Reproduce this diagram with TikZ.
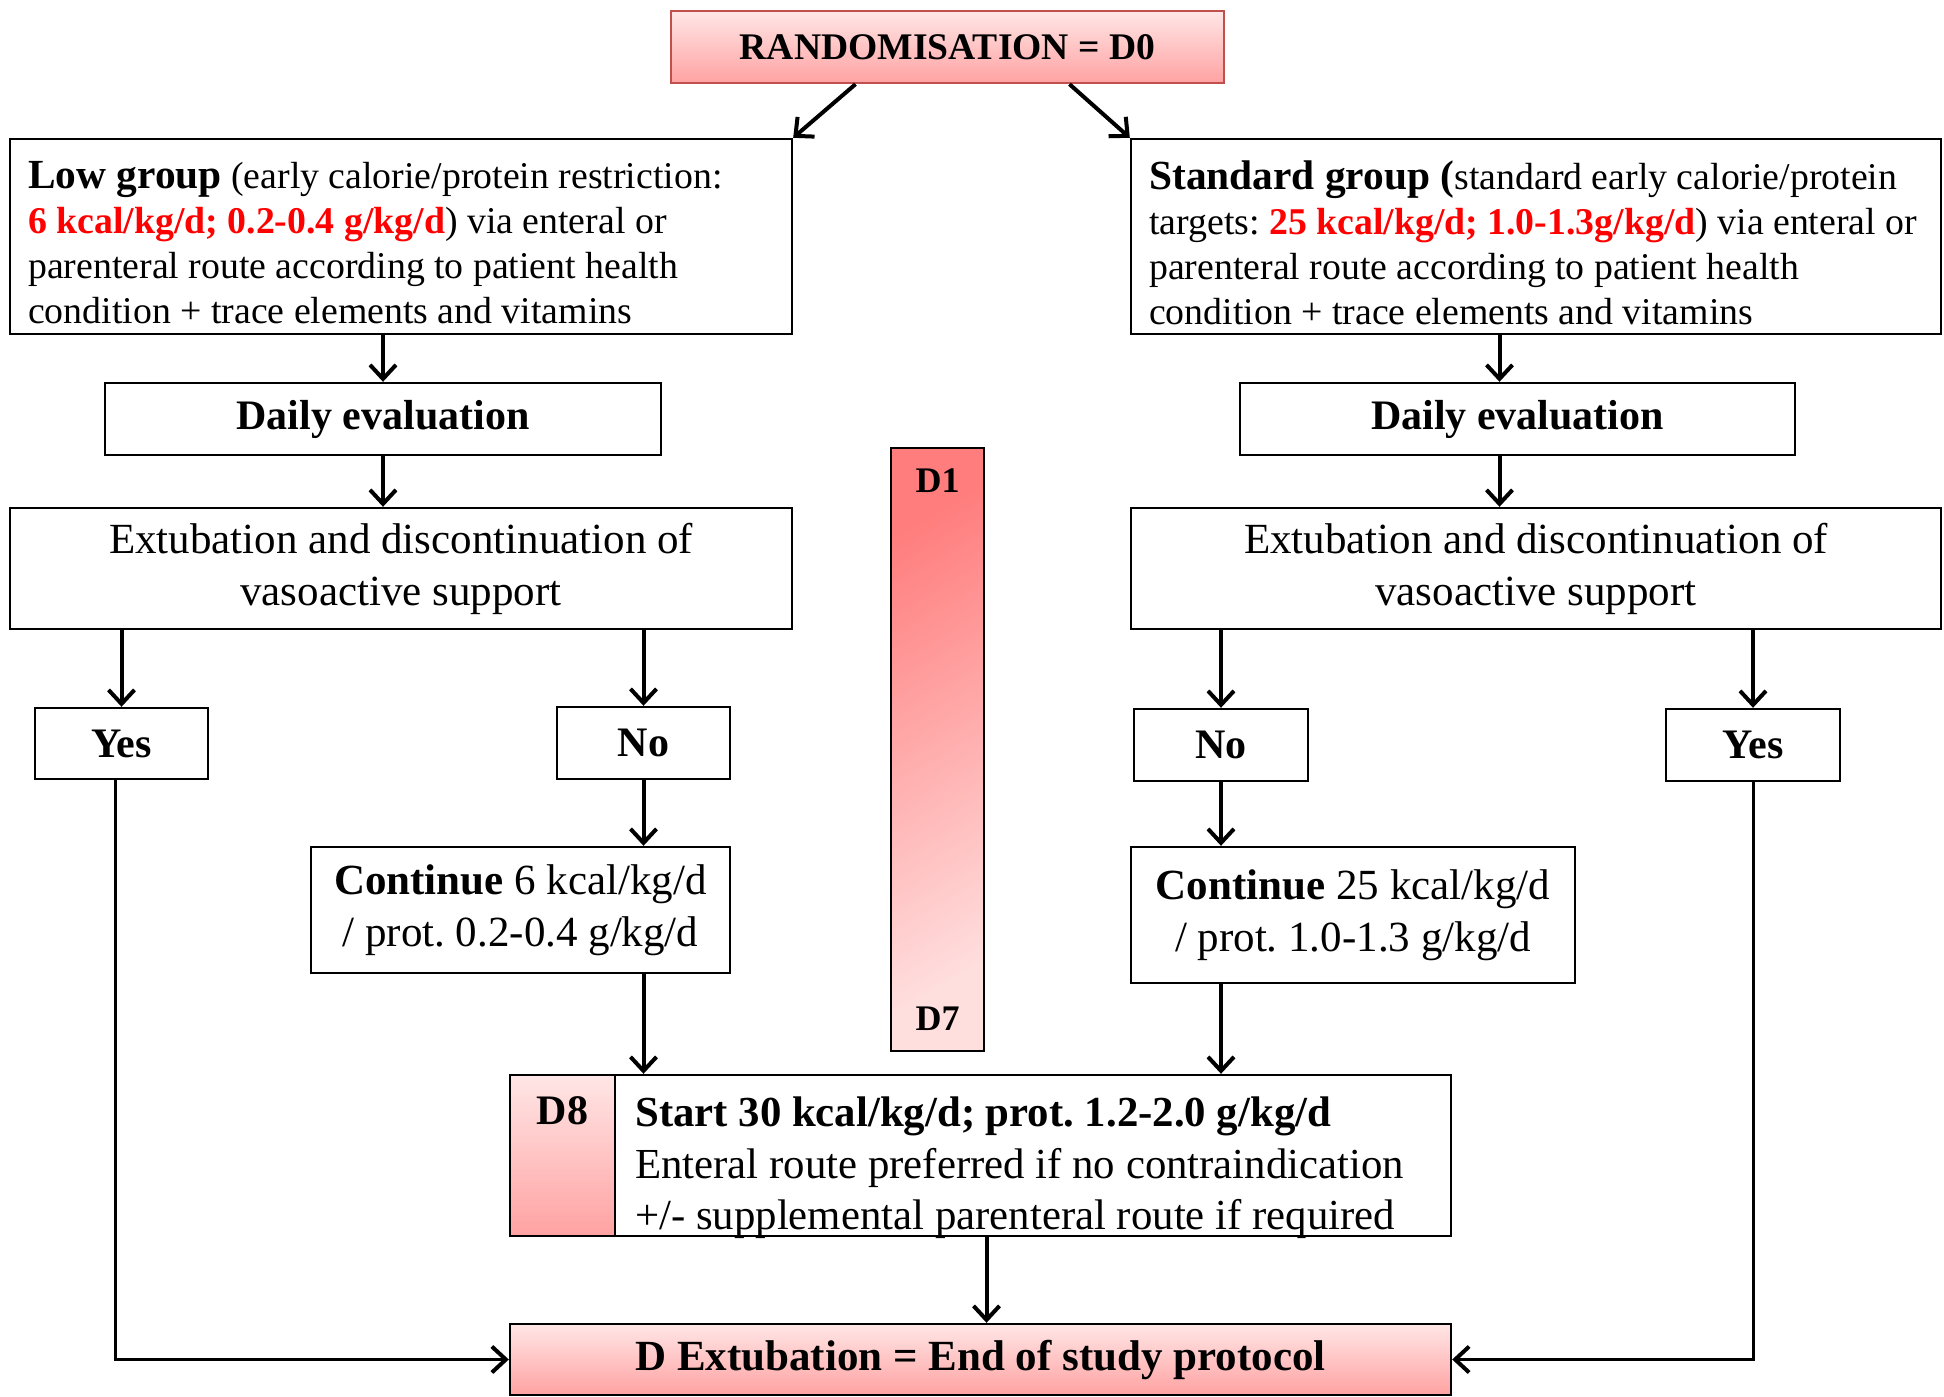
\documentclass[tikz,border=0pt]{standalone}
\usepackage{fontspec}
\setmainfont{Liberation Serif}
\usetikzlibrary{arrows.meta,positioning}

\definecolor{rndred}{RGB}{192,80,77}
\definecolor{pinkhi}{RGB}{255,230,230}
\definecolor{pinklo}{RGB}{255,162,162}
\definecolor{barhi}{RGB}{255,125,125}
\definecolor{barlo}{RGB}{255,222,222}
\newcommand{\hl}[1]{\textcolor{red}{\textbf{#1}}}
\frenchspacing

\begin{document}
\begin{tikzpicture}[x=0.5pt, y=-0.5pt,
  box/.style={draw, line width=1.2pt, inner sep=0pt, align=center,
    font=\fontsize{21.5}{26}\selectfont},
  lefttxt/.style={align=left, inner sep=0pt, anchor=north west},
  grptxt/.style={lefttxt, xshift=9.5pt, yshift=-11.5pt,
    font=\fontsize{18.9}{22.5}\selectfont},
  pinkbox/.style={box, top color=pinkhi, bottom color=pinklo},
  bbox/.style={box, font=\bfseries\fontsize{21}{25}\selectfont},
  arr/.style={-{Straight Barb[length=7pt,width=13pt,line width=2pt]}, line width=2pt},
  yesline/.style={arr, line width=1.5pt}]
\useasboundingbox (0,0) rectangle (1944,1397);

% top
\node[pinkbox, draw=rndred, minimum width=276.5pt, minimum height=36pt,
  font=\bfseries\fontsize{18.8}{21}\selectfont] (rand) at (947.5,47) {RANDOMISATION = D0};

% low group
\node[box, minimum width=391pt, minimum height=97.5pt,
  label={[grptxt]north west:{\textbf{\fontsize{20.7}{22.5}\selectfont Low group} (early calorie/protein restriction:\\
   \hl{6 kcal/kg/d; 0.2-0.4 g/kg/d}) via enteral or\\
   parenteral route according to patient health\\
   condition + trace elements and vitamins}}] (low) at (401,236.5) {};
\node[bbox, minimum width=278pt, minimum height=36pt] (dailyL) at (383,419) {Daily evaluation};
\node[box, minimum width=391pt, minimum height=60.5pt] (extL) at (401,568.5)
  {Extubation and discontinuation of\\vasoactive support};
\node[bbox, minimum width=86.5pt, minimum height=35.5pt] (yesL) at (121.5,743.5) {Yes};
\node[bbox, minimum width=86.5pt, minimum height=36pt] (noL) at (643.5,743) {No};
\node[box, minimum width=209.5pt, minimum height=63pt] (contL) at (520.5,910)
  {\textbf{Continue} 6 kcal/kg/d\\/ prot. 0.2-0.4 g/kg/d};

% standard group
\node[box, minimum width=405pt, minimum height=97.5pt,
  label={[grptxt]north west:{\textbf{\fontsize{20.7}{22.5}\selectfont Standard group (}standard early calorie/protein\\
   targets: \hl{25 kcal/kg/d; 1.0-1.3g/kg/d}) via enteral or\\
   parenteral route according to patient health\\
   condition + trace elements and vitamins}}] (std) at (1536,236.5) {};
\node[bbox, minimum width=277.5pt, minimum height=36pt] (dailyR) at (1517.5,419) {Daily evaluation};
\node[box, minimum width=405pt, minimum height=60.5pt] (extR) at (1536,568.5)
  {Extubation and discontinuation of\\vasoactive support};
\node[bbox, minimum width=87pt, minimum height=36pt] (noR) at (1221,745) {No};
\node[bbox, minimum width=87pt, minimum height=36pt] (yesR) at (1753,745) {Yes};
\node[box, minimum width=222pt, minimum height=68pt] (contR) at (1353,915)
  {\textbf{Continue} 25 kcal/kg/d\\/ prot. 1.0-1.3 g/kg/d};

% day markers
\node[draw, line width=1.2pt, minimum width=46.5pt, minimum height=301.5pt,
  top color=barhi, bottom color=barlo, shading angle=30,
  label={[anchor=north, inner sep=0pt, yshift=-11pt, font=\bfseries\fontsize{18}{20}\selectfont]north:D1},
  label={[anchor=south, inner sep=0pt, yshift=10.5pt, font=\bfseries\fontsize{18}{20}\selectfont]south:D7}]
  (days) at (937.5,749.5) {};
\node[draw, line width=1.2pt, minimum width=52.5pt, minimum height=80.5pt,
  top color=pinkhi, bottom color=pinklo,
  label={[anchor=north, inner sep=0pt, yshift=-11pt, font=\bfseries\fontsize{21}{22}\selectfont]north:D8}]
  (d8) at (562.5,1155.5) {};
\node[box, minimum width=418pt, minimum height=80.5pt,
  label={[lefttxt, xshift=10.5pt, yshift=-11.5pt, font=\fontsize{21.4}{25.7}\selectfont]north west:{\textbf{Start 30 kcal/kg/d; prot. 1.2-2.0 g/kg/d}\\
   Enteral route preferred if no contraindication\\
   +/- supplemental parenteral route if required}}] (start) at (1033,1155.5) {};
\node[pinkbox, minimum width=470.5pt, minimum height=35.5pt,
  font=\bfseries\fontsize{21.5}{25}\selectfont] (endp) at (980.5,1359.5) {D Extubation = End of study protocol};

% connectors
\draw[arr] ([xshift=-46pt]rand.south) -- (low.north east);
\draw[arr] ([xshift=61pt]rand.south) -- (std.north west);
\draw[arr] (dailyL.north |- low.south) -- (dailyL.north);
\draw[arr] (dailyL.south) -- (dailyL.south |- extL.north);
\draw[arr] (yesL.north |- extL.south) -- (yesL.north);
\draw[arr] (noL.north |- extL.south) -- (noL.north);
\draw[arr] (noL.south) -- (contL.north -| noL.south);
\draw[arr] (contL.south -| noL.south) -- (start.north -| noL.south);
\draw[arr] ([xshift=-9pt]dailyR.north |- std.south) -- ([xshift=-9pt]dailyR.north);
\draw[arr] ([xshift=-9pt]dailyR.south) -- ([xshift=-9pt]dailyR.south |- extR.north);
\draw[arr] (noR.north |- extR.south) -- (noR.north);
\draw[arr] (yesR.north |- extR.south) -- (yesR.north);
\draw[arr] (noR.south) -- (contR.north -| noR.south);
\draw[arr] (contR.south -| noR.south) -- (start.north -| noR.south);
\draw[arr] ([xshift=3pt]start.south -| endp.north) -- ([xshift=3pt]endp.north);
\draw[yesline] ([xshift=-3pt]yesL.south) |- (endp.west);
\draw[yesline] (yesR.south) |- (endp.east);
\end{tikzpicture}
\end{document}
